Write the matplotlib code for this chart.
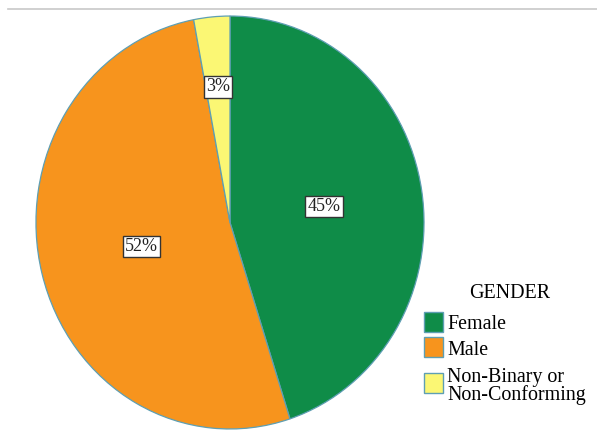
import numpy as np
import matplotlib
matplotlib.use("Agg")
import matplotlib.pyplot as plt
from matplotlib.patches import Rectangle
from matplotlib.lines import Line2D

# gender breakdown (percent)
categories = ["Female", "Male", "Non-Binary or\nNon-Conforming"]
shares = [45, 52, 3]
colors = ["#0f8c48", "#f7941d", "#fbf774"]
label_radius = [0.49, 0.47, 0.66]

plt.rcParams["font.family"] = ["Liberation Serif", "DejaVu Serif"]

W, H = 597, 432
fig = plt.figure(figsize=(W / 100, H / 100), dpi=100)

# thin rule across the top
fig.add_artist(Line2D([8 / W, 1.0], [1 - 9 / H, 1 - 9 / H], color="#c8c8c8", lw=1.2))

# pie is drawn slightly taller than wide
ax = fig.add_axes([35 / W, 1 - 430 / H, 390 / W, 415 / H])
wedges, _ = ax.pie(shares, colors=colors, startangle=90, counterclock=False,
                   wedgeprops=dict(edgecolor="#5e9fb3", linewidth=0.9))
ax.set_aspect("auto")
ax.set_xlim(-1.005, 1.005)
ax.set_ylim(-1.005, 1.005)
for w in wedges:
    w.set_clip_on(False)

for w, val, r in zip(wedges, shares, label_radius):
    mid = np.deg2rad((w.theta1 + w.theta2) / 2)
    ax.text(r * np.cos(mid), r * np.sin(mid), f"{val}%", ha="center", va="center",
            fontsize=13, color="#222222",
            bbox=dict(boxstyle="square,pad=0.12", fc="white", ec="#333333", lw=1))

# legend, laid out in pixel coordinates
lg = fig.add_axes([0, 0, 1, 1], zorder=-1)
lg.set_xlim(0, W)
lg.set_ylim(H, 0)
lg.axis("off")
lg.text(510, 298, "GENDER", ha="center", va="baseline", fontsize=14.4)
box_tops = [312, 337, 373]
baselines = [329, 355, 382]
for c, name, top, base in zip(colors, categories, box_tops, baselines):
    lg.add_patch(Rectangle((424, top), 19, 20, fc=c, ec="#5e9fb3", lw=1))
    lg.text(447, base, name.split("\n")[0], ha="left", va="baseline", fontsize=14.4)
    if "\n" in name:
        lg.text(447, base + 18, name.split("\n")[1], ha="left", va="baseline", fontsize=14.4)

fig.savefig("out.png", dpi=100)
